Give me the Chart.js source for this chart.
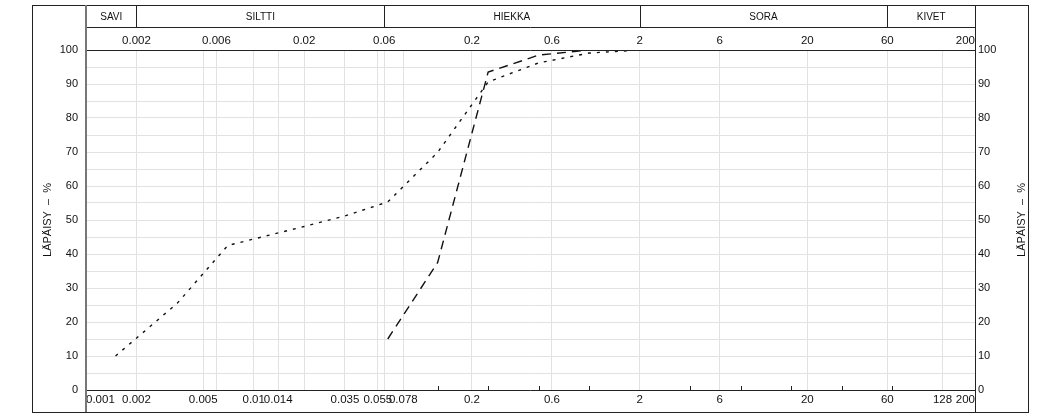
<!DOCTYPE html>
<html>
<head>
<meta charset="utf-8">
<script src="https://cdn.jsdelivr.net/npm/chart.js@4.4.1/dist/chart.umd.min.js"></script>
<style>
    html, body { margin: 0; padding: 0; background: #fff; }
    #wrap { width: 1049px; height: 417px; }
</style>
</head>
<body>
<div id="wrap"><canvas id="gradation"></canvas></div>
<script>
// soil classes in the header row
const soilNames = ['SAVI', 'SILTTI', 'HIEKKA', 'SORA', 'KIVET'];
const soilLimits = [0.001, 0.002, 0.06, 2, 60, 200];

// grain size axis (mm)
const gridSizes = [0.001, 0.002, 0.005, 0.006, 0.01, 0.014, 0.02, 0.035, 0.055, 0.06, 0.078, 0.2, 0.6, 2, 6, 20, 60, 128, 200];
const bottomLabels = [0.001, 0.002, 0.005, 0.01, 0.014, 0.035, 0.055, 0.078, 0.2, 0.6, 2, 6, 20, 60, 128, 200];
const topLabels = [0.002, 0.006, 0.02, 0.06, 0.2, 0.6, 2, 6, 20, 60, 200];
const sieveTicks = [0.125, 0.25, 0.5, 1, 4, 8, 16, 32, 64];

// passing percentage
const passMin = 0;
const passMax = 100;
const passStep = 5;

// sample curves
const dottedSize = [0.0015, 0.0035, 0.007, 0.014, 0.02, 0.035, 0.063, 0.125, 0.25, 0.5, 1, 2];
const dottedPass = [10, 25.5, 42.5, 46.2, 48.1, 51.2, 55.3, 69.9, 90.6, 96.2, 99.1, 100];
const dashedSize = [0.063, 0.125, 0.25, 0.5, 1, 2];
const dashedPass = [15, 37.5, 93.5, 98.5, 100, 100];

Chart.defaults.font.family = '"Liberation Sans", Arial, sans-serif';
Chart.defaults.font.size = 11;
Chart.defaults.color = '#111';

const toPoints = (sizes, pass) => sizes.map((s, i) => ({ x: s, y: pass[i] }));

const drawingFrame = {
    id: 'drawingFrame',
    afterDraw(chart) {
        const { ctx, chartArea: a, scales } = chart;
        const xs = scales.x;
        const frameLeft = 32, frameRight = 1028, frameTop = 5, frameBottom = 412, headBottom = 27;
        ctx.save();
        ctx.strokeStyle = '#222';
        ctx.lineWidth = 1;

        // outer frame
        ctx.strokeRect(frameLeft + 0.5, frameTop + 0.5, frameRight - frameLeft, frameBottom - frameTop);

        // header row
        ctx.beginPath();
        ctx.moveTo(a.left, headBottom + 0.5);
        ctx.lineTo(a.right, headBottom + 0.5);
        for (let i = 1; i < soilLimits.length - 1; i++) {
            const px = Math.round(xs.getPixelForValue(soilLimits[i])) + 0.5;
            ctx.moveTo(px, frameTop);
            ctx.lineTo(px, headBottom);
        }
        // axis lines
        ctx.moveTo(a.left, Math.round(a.top) + 0.5);
        ctx.lineTo(a.right, Math.round(a.top) + 0.5);
        ctx.moveTo(a.left, Math.round(a.bottom) + 0.5);
        ctx.lineTo(a.right, Math.round(a.bottom) + 0.5);
        ctx.moveTo(Math.round(a.right) + 0.5, frameTop);
        ctx.lineTo(Math.round(a.right) + 0.5, frameBottom);
        // sieve ticks
        sieveTicks.forEach(v => {
            const px = Math.round(xs.getPixelForValue(v)) + 0.5;
            ctx.moveTo(px, a.bottom);
            ctx.lineTo(px, a.bottom - 4);
        });
        ctx.stroke();

        // left axis, gray and heavier
        ctx.beginPath();
        ctx.strokeStyle = '#777';
        ctx.lineWidth = 2;
        ctx.moveTo(a.left, frameTop);
        ctx.lineTo(a.left, frameBottom);
        ctx.stroke();

        // header names
        ctx.fillStyle = '#111';
        ctx.font = '10px "Liberation Sans", Arial, sans-serif';
        ctx.textAlign = 'center';
        ctx.textBaseline = 'middle';
        soilNames.forEach((name, i) => {
            const x0 = xs.getPixelForValue(soilLimits[i]);
            const x1 = xs.getPixelForValue(soilLimits[i + 1]);
            ctx.fillText(name, (x0 + x1) / 2, (frameTop + headBottom) / 2 + 1);
        });

        // axis titles
        ctx.font = '11px "Liberation Sans", Arial, sans-serif';
        const midY = (a.top + a.bottom) / 2;
        [48, 1022].forEach(tx => {
            ctx.save();
            ctx.translate(tx, midY);
            ctx.rotate(-Math.PI / 2);
            ctx.fillText('LÄPÄISY  –  %', 0, 0);
            ctx.restore();
        });
        ctx.restore();
    }
};

const ctx = document.getElementById('gradation').getContext('2d');
const gradationChart = new Chart(ctx, {
    type: 'line',
    data: {
        datasets: [{
            label: 'Näyte 1',
            data: toPoints(dottedSize, dottedPass),
            borderColor: '#111',
            borderWidth: 1.4,
            borderDash: [3, 6],
            pointRadius: 0,
            tension: 0,
            fill: false
        }, {
            label: 'Näyte 2',
            data: toPoints(dashedSize, dashedPass),
            borderColor: '#111',
            borderWidth: 1.4,
            borderDash: [9, 6],
            pointRadius: 0,
            tension: 0,
            fill: false
        }]
    },
    options: {
        responsive: true,
        maintainAspectRatio: false,
        animation: false,
        layout: { padding: 0 },
        plugins: {
            legend: { display: false },
            tooltip: { enabled: false }
        },
        scales: {
            x: {
                type: 'logarithmic',
                position: 'bottom',
                min: soilLimits[0],
                max: soilLimits[soilLimits.length - 1],
                afterBuildTicks: s => { s.ticks = gridSizes.map(v => ({ value: v })); },
                afterFit: s => { s.height = 27; },
                ticks: {
                    autoSkip: false,
                    maxRotation: 0,
                    minRotation: 0,
                    align: 'inner',
                    padding: 3,
                    font: { size: 11.5 },
                    callback: v => bottomLabels.includes(v) ? String(v) : ''
                },
                grid: { color: '#e2e2e2', drawTicks: false },
                border: { display: false }
            },
            xTop: {
                type: 'logarithmic',
                position: 'top',
                min: soilLimits[0],
                max: soilLimits[soilLimits.length - 1],
                afterBuildTicks: s => { s.ticks = [soilLimits[0], ...topLabels].map(v => ({ value: v })); },
                afterFit: s => { s.height = 50; },
                ticks: {
                    autoSkip: false,
                    maxRotation: 0,
                    minRotation: 0,
                    align: 'inner',
                    padding: 2,
                    font: { size: 11.5 },
                    callback: v => topLabels.includes(v) ? String(v) : ''
                },
                grid: { display: false, drawTicks: false },
                border: { display: false }
            },
            y: {
                position: 'left',
                min: passMin,
                max: passMax,
                afterFit: s => { s.width = 86; },
                ticks: {
                    stepSize: passStep,
                    padding: 8,
                    callback: v => v % 10 === 0 ? String(v) : ''
                },
                grid: { color: '#e2e2e2', drawTicks: false },
                border: { display: false }
            },
            yRight: {
                position: 'right',
                min: passMin,
                max: passMax,
                afterFit: s => { s.width = 74; },
                ticks: {
                    stepSize: passStep,
                    padding: 3,
                    callback: v => v % 10 === 0 ? String(v) : ''
                },
                grid: { drawOnChartArea: false, drawTicks: false },
                border: { display: false }
            }
        }
    },
    plugins: [drawingFrame]
});
</script>
</body>
</html>
